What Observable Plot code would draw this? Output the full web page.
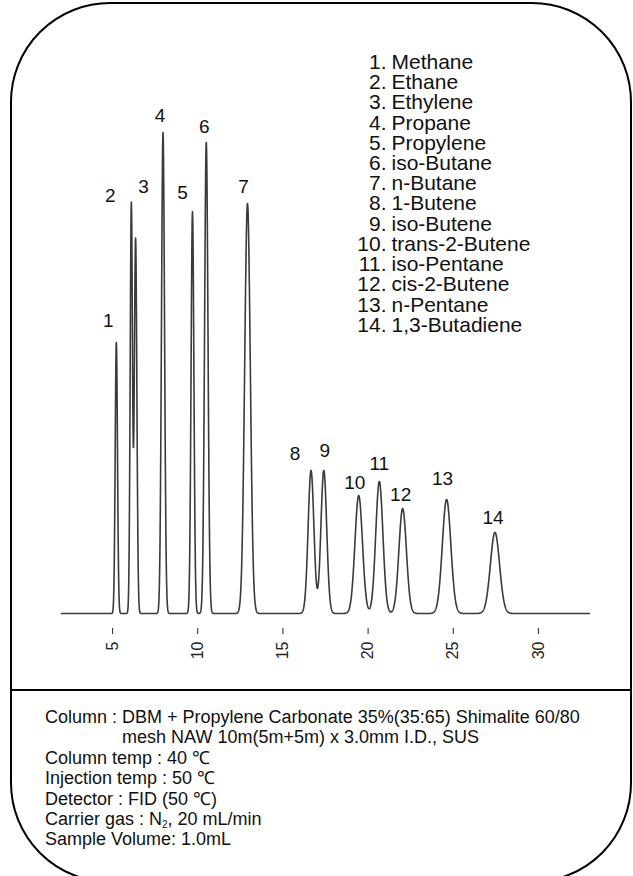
<!DOCTYPE html>
<html>
<head>
<meta charset="utf-8">
<script src="https://cdn.jsdelivr.net/npm/d3@7"></script>
<script src="https://cdn.jsdelivr.net/npm/@observablehq/plot@0.6"></script>
<style>
  html, body { margin: 0; padding: 0; background: #fff; }
  #wrap { position: relative; width: 633px; height: 876px; overflow: hidden; background: #fff;
          font-family: "Liberation Sans", Arial, sans-serif; color: #111; }
  #frame { position: absolute; left: 10px; top: 2px; width: 622px; height: 881px; box-sizing: border-box;
           border: 2px solid #000; border-radius: 100px; }
  #chart { position: absolute; left: 0; top: 0; }
  #rule { position: absolute; left: 11px; top: 689px; width: 621px; height: 2px; background: #000; }
  #conditions { position: absolute; left: 45px; top: 707px; font-size: 18px; line-height: 20.4px; white-space: nowrap; }
  #conditions .row { display: flex; }
  #conditions sub { font-size: 10px; line-height: 0; vertical-align: baseline; position: relative; top: 3px; }
</style>
</head>
<body>
<div id="wrap">
  <div id="frame"></div>
  <div id="chart"></div>
  <div id="rule"></div>
  <div id="conditions">
    <div class="row"><span>Column :&nbsp;</span><span>DBM + Propylene Carbonate 35%(35:65) Shimalite 60/80<br>mesh NAW 10m(5m+5m) x 3.0mm I.D., SUS</span></div>
    <div>Column temp : 40 ℃</div>
    <div>Injection temp : 50 ℃</div>
    <div>Detector : FID (50 ℃)</div>
    <div>Carrier gas : N<sub>2</sub>, 20 mL/min</div>
    <div>Sample Volume: 1.0mL</div>
  </div>
</div>
<script>
// Peak table of the chromatogram (retention time in min, detector response, peak width sigma in min)
const peakNo = [1, 2, 3, 4, 5, 6, 7, 8, 9, 10, 11, 12, 13, 14];
const compounds = ["Methane", "Ethane", "Ethylene", "Propane", "Propylene", "iso-Butane", "n-Butane",
  "1-Butene", "iso-Butene", "trans-2-Butene", "iso-Pentane", "cis-2-Butene", "n-Pentane", "1,3-Butadiene"];
const retention = [5.22, 6.10, 6.35, 7.96, 9.69, 10.50, 12.92, 16.65, 17.40, 19.45, 20.66, 22.03, 24.61, 27.45];
const response = [271, 410, 375, 481, 402, 471, 410, 143, 143, 118, 132, 105, 114, 81];
const sigma = [0.067, 0.067, 0.075, 0.09, 0.083, 0.10, 0.165, 0.17, 0.17, 0.22, 0.21, 0.22, 0.25, 0.27];
const timeTicks = [5, 10, 15, 20, 25, 30];
const runRange = [2, 33];

const peaks = peakNo.map((n, i) => ({n, name: compounds[i], t: retention[i], h: response[i], s: sigma[i]}));

// Detector trace: sum of Gaussian peaks over the run
const step = 0.01;
const trace = d3.range(runRange[0], runRange[1] + step / 2, step).map(t => ({
  t,
  v: d3.sum(peaks, p => p.h * Math.exp(-((t - p.t) ** 2) / (2 * p.s * p.s)))
}));

// Pixel nudges for the peak number labels
const labelNudge = [[-8, -22], [-21, -8], [8, -52], [-3, -17], [-10, -19], [-2, -16], [-4, -17],
  [-16, -17], [1, -20], [-4, -13], [0, -18], [-2, -14], [-4, -21], [-2, -15]];

const chart = Plot.plot({
  width: 633,
  height: 690,
  marginLeft: 61,
  marginRight: 44,
  marginTop: 40,
  marginBottom: 62,
  x: {domain: runRange},
  y: {domain: [0, 573], insetBottom: 15, axis: null},
  style: {fontFamily: "'Liberation Sans', Arial, sans-serif", fontSize: "16px", background: "transparent", color: "#111", overflow: "visible"},
  marks: [
    Plot.line(trace, {x: "t", y: "v", stroke: "#3a3a3a", strokeWidth: 1.6, curve: "linear"}),
    ...peaks.map((p, i) => Plot.text([p], {
      x: "t", y: "h", text: d => String(d.n), fontSize: 19, fill: "#111",
      dx: labelNudge[i][0], dy: labelNudge[i][1]
    })),
    Plot.axisX(timeTicks, {anchor: "bottom", tickRotate: -90, tickSize: 6, tickPadding: 7, fontSize: 16, label: null, color: "#222"}),
    // compound list
    Plot.text([peakNo.map(n => n + ".").join("\n")], {
      frameAnchor: "top-left", dx: 325, dy: 14, lineAnchor: "top", textAnchor: "end",
      fontSize: 21, lineHeight: 0.963, fill: "#111"
    }),
    Plot.text([compounds.join("\n")], {
      frameAnchor: "top-left", dx: 330, dy: 14, lineAnchor: "top", textAnchor: "start",
      fontSize: 21, lineHeight: 0.963, fill: "#111"
    })
  ]
});
document.getElementById("chart").appendChild(chart);
</script>
</body>
</html>
